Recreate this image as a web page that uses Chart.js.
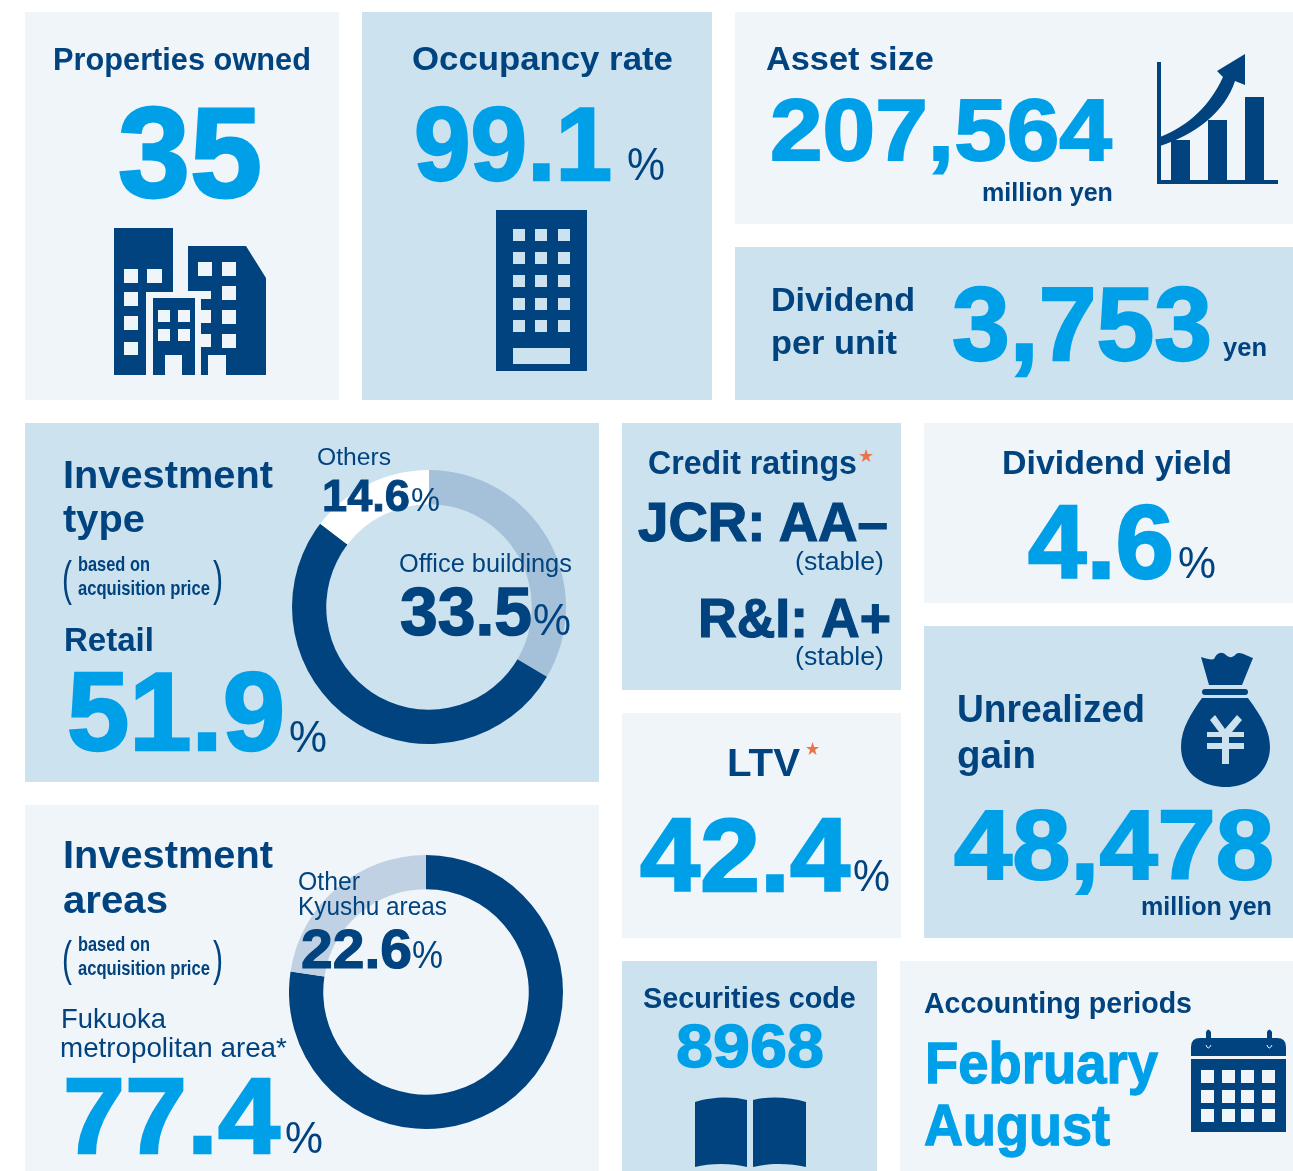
<!DOCTYPE html>
<html>
<head>
<meta charset="utf-8">
<title>Portfolio highlights</title>
<script src="https://cdn.jsdelivr.net/npm/chart.js@4/dist/chart.umd.js"></script>
<style>
  html, body { margin: 0; padding: 0; background: #fff; }
  #page { position: relative; width: 1293px; height: 1171px; overflow: hidden; }
  .panel { position: absolute; }
  .light { background: #f0f5fa; }
  .mid { background: #cde2ef; }
  canvas { position: absolute; }
  #overlay { position: absolute; left: 0; top: 0; pointer-events: none; }
  #overlay text { font-family: "Liberation Sans", Arial, sans-serif; }
</style>
</head>
<body>
<div id="page">
  <div class="panel light" style="left:25px;top:12px;width:314px;height:388px"></div>
  <div class="panel mid" style="left:362px;top:12px;width:350px;height:388px"></div>
  <div class="panel light" style="left:735px;top:12px;width:558px;height:212px"></div>
  <div class="panel mid" style="left:735px;top:247px;width:558px;height:153px"></div>
  <div class="panel mid" style="left:25px;top:423px;width:574px;height:359px"></div>
  <div class="panel mid" style="left:622px;top:423px;width:279px;height:267px"></div>
  <div class="panel light" style="left:924px;top:423px;width:369px;height:180px"></div>
  <div class="panel light" style="left:622px;top:713px;width:279px;height:225px"></div>
  <div class="panel mid" style="left:924px;top:626px;width:369px;height:312px"></div>
  <div class="panel light" style="left:25px;top:805px;width:574px;height:366px"></div>
  <div class="panel mid" style="left:622px;top:961px;width:255px;height:210px"></div>
  <div class="panel light" style="left:900px;top:961px;width:393px;height:210px"></div>

  <canvas id="typeChart" width="274" height="274" style="left:292px;top:470px"></canvas>
  <canvas id="areaChart" width="274" height="274" style="left:289px;top:855px"></canvas>

  <svg id="overlay" width="1293" height="1171" xmlns="http://www.w3.org/2000/svg">
    <g id="icons" fill="#00437f" fill-rule="evenodd">
      <!-- buildings -->
      <path d="M114 228H173V292H146V375H114Z M124 269V283H138V269Z M147 269V283H162V269Z M124 292V306H138V292Z M124 316V330H138V316Z M124 342V355H138V342Z"/>
      <path d="M153 298H195V375H182V355H165V375H153Z M158 310V322H170V310Z M178 310V322H190V310Z M158 329V341H170V329Z M178 329V341H190V329Z"/>
      <path d="M188 246H246L266 278V375H226V355H208V375H201V347H211V334H201V323H211V310H201V299H211V291H188Z M198 262V276H212V262Z M222 262V276H236V262Z M222 286V300H236V286Z M222 310V324H236V310Z M222 334V348H236V334Z"/>
      <!-- single building -->
      <path d="M496 210H587V371H496Z M513 229V241H525V229Z M535 229V241H547V229Z M558 229V241H570V229Z M513 252V264H525V252Z M535 252V264H547V252Z M558 252V264H570V252Z M513 275V287H525V275Z M535 275V287H547V275Z M558 275V287H570V275Z M513 298V310H525V298Z M535 298V310H547V298Z M558 298V310H570V298Z M513 320V332H525V320Z M535 320V332H547V320Z M558 320V332H570V320Z M513 348V364H570V348Z"/>
      <!-- growth chart -->
      <path d="M1157 62H1161V180H1278V184H1157Z"/>
      <path d="M1171 140H1190V181H1171Z M1208 120H1227V181H1208Z M1245 97H1264V181H1245Z"/>
      <path d="M1160 137C1190 125 1210 105 1223 77L1217 71L1245 54V85L1235 81C1225 112 1195 135 1160 146Z"/>
      <!-- money bag -->
      <path d="M1201 657C1207 659 1212 660 1214 659C1217 652 1222 651 1226 655C1229 658 1233 658 1236 654C1240 651 1245 655 1253 658L1242 685H1209Z"/>
      <rect x="1202" y="689" width="46" height="6" rx="3"/>
      <path d="M1202 698H1248C1258 712 1270 728 1270 747C1270 771 1250 787 1226 787C1200 787 1181 771 1181 747C1181 728 1192 712 1202 698Z
               M1215 715L1210 720L1219 732H1207V737H1222V743H1207V749H1222V764H1229V749H1244V743H1229V737H1244V732H1232L1242 720L1237 715L1225 729Z"/>
      <!-- book -->
      <path d="M695 1102C710 1097 732 1096 747 1100V1167C732 1163 710 1163 695 1167Z"/>
      <path d="M753 1100C768 1096 790 1097 806 1102V1167C790 1163 768 1163 753 1167Z"/>
      <!-- calendar -->
      <path d="M1200 1038H1206V1032Q1208 1027 1211 1032V1038H1267V1032Q1269 1027 1272 1032V1038H1277Q1286 1038 1286 1047V1056H1191V1047Q1191 1038 1200 1038Z"/>
      <path d="M1191 1059H1286V1132H1191Z
               M1201 1070V1083H1214V1070Z M1222 1070V1083H1235V1070Z M1241 1070V1083H1254V1070Z M1262 1070V1083H1275V1070Z
               M1201 1090V1103H1214V1090Z M1222 1090V1103H1235V1090Z M1241 1090V1103H1254V1090Z M1262 1090V1103H1275V1090Z
               M1201 1109V1122H1214V1109Z M1222 1109V1122H1235V1109Z M1241 1109V1122H1254V1109Z M1262 1109V1122H1275V1109Z"/>
      <path d="M1206 1045Q1208 1051 1211 1045M1267 1045Q1269 1051 1272 1045" fill="none" stroke="#f0f5fa" stroke-width="1"/>
    </g>
    <g id="labels"></g>
  </svg>
</div>

<script>
// Investment type, clockwise from the top
var typeLabels = ['Office buildings', 'Retail', 'Others'];
var typeValues = [33.5, 51.9, 14.6];
var typeColors = ['#a5c1da', '#00437f', '#ffffff'];

// Investment areas, clockwise from the top
var areaLabels = ['Fukuoka metropolitan area', 'Other Kyushu areas'];
var areaValues = [77.4, 22.6];
var areaColors = ['#00437f', '#c0d1e3'];

var NAVY = '#00437f';
var CYAN = '#00a0e9';
var STAR = '#e9744a';

function doughnut(id, labels, values, colors) {
    return new Chart(document.getElementById(id), {
        type: 'doughnut',
        data: {
            labels: labels,
            datasets: [{ data: values, backgroundColor: colors, borderWidth: 0 }]
        },
        options: {
            responsive: false,
            animation: false,
            cutout: '75%',
            layout: { padding: 0 },
            plugins: { legend: { display: false }, tooltip: { enabled: false } }
        }
    });
}

doughnut('typeChart', typeLabels, typeValues, typeColors);
doughnut('areaChart', areaLabels, areaValues, areaColors);

// text from left edge x0 to right edge x1, stretched to fit, on baseline y
function t(str, x0, x1, y, size, color, weight) {
    var el = document.createElementNS('http://www.w3.org/2000/svg', 'text');
    el.setAttribute('font-size', size);
    el.setAttribute('fill', color);
    el.setAttribute('font-weight', weight || 'bold');
    el.textContent = str;
    document.getElementById('labels').appendChild(el);
    var sx = (x1 - x0) / el.getComputedTextLength();
    el.setAttribute('transform', 'translate(' + x0 + ' ' + y + ') scale(' + sx + ' 1)');
    // the big figures are heavier than Liberation bold
    if (size >= 40 && weight !== 'normal') {
        el.setAttribute('stroke', color);
        el.setAttribute('stroke-width', size * 0.022);
    }
}

t('Properties owned', 53, 311, 70, 32, NAVY);
t('35', 118, 262, 197, 128, CYAN);

t('Occupancy rate', 412, 673, 70, 33, NAVY);
t('99.1', 414, 612, 180, 104, CYAN);
t('%', 627, 665, 180, 46, NAVY, 'normal');

t('Asset size', 766, 934, 70, 33, NAVY);
t('207,564', 770, 1112, 160, 88, CYAN);
t('million yen', 982, 1113, 201, 26, NAVY);

t('Dividend', 771, 915, 311, 33, NAVY);
t('per unit', 771, 897, 354, 33, NAVY);
t('3,753', 952, 1212, 360, 104, CYAN);
t('yen', 1223, 1267, 356, 26, NAVY);

t('Investment', 63, 273, 488, 39, NAVY);
t('type', 63, 145, 532, 39, NAVY);
t('based on', 78, 150, 571, 20, NAVY);
t('acquisition price', 78, 210, 595, 20, NAVY);
t('(', 62, 72, 595, 48, NAVY, 'normal');
t(')', 213, 223, 595, 48, NAVY, 'normal');
t(typeLabels[1], 64, 154, 651, 34, NAVY);
t(typeValues[1].toFixed(1), 67, 285, 750, 112, CYAN);
t('%', 289, 327, 752, 44, NAVY, 'normal');
t(typeLabels[2], 317, 391, 465, 24, NAVY, 'normal');
t(typeValues[2].toFixed(1), 322, 410, 511, 45, NAVY);
t('%', 411, 440, 511, 34, NAVY, 'normal');
t(typeLabels[0], 399, 572, 572, 25, NAVY, 'normal');
t(typeValues[0].toFixed(1), 400, 532, 635, 69, NAVY);
t('%', 533, 571, 635, 44, NAVY, 'normal');

t('Credit ratings', 648, 857, 474, 33, NAVY);
t('\u2605', 858, 874, 462, 18, STAR, 'normal');
t('JCR: AA\u2013', 638, 888, 541, 55, NAVY);
t('(stable)', 795, 884, 570, 25, NAVY, 'normal');
t('R&I: A+', 698, 891, 637, 55, NAVY);
t('(stable)', 795, 884, 665, 25, NAVY, 'normal');

t('Dividend yield', 1002, 1232, 474, 33, NAVY);
t('4.6', 1028, 1174, 578, 104, CYAN);
t('%', 1178, 1216, 578, 44, NAVY, 'normal');

t('LTV', 727, 800, 776, 39, NAVY);
t('\u2605', 805, 820, 755, 18, STAR, 'normal');
t('42.4', 640, 850, 891, 104, CYAN);
t('%', 853, 890, 891, 44, NAVY, 'normal');

t('Unrealized', 957, 1145, 722, 38, NAVY);
t('gain', 957, 1036, 768, 38, NAVY);
t('48,478', 954, 1274, 879, 98, CYAN);
t('million yen', 1141, 1272, 915, 26, NAVY);

t('Investment', 63, 273, 868, 39, NAVY);
t('areas', 63, 168, 913, 39, NAVY);
t('based on', 78, 150, 951, 20, NAVY);
t('acquisition price', 78, 210, 975, 20, NAVY);
t('(', 62, 72, 975, 48, NAVY, 'normal');
t(')', 213, 223, 975, 48, NAVY, 'normal');
t('Fukuoka', 61, 166, 1028, 27, NAVY, 'normal');
t('metropolitan area*', 60, 287, 1057, 27, NAVY, 'normal');
t(areaValues[0].toFixed(1), 63, 280, 1153, 108, CYAN);
t('%', 285, 323, 1153, 44, NAVY, 'normal');
t('Other', 298, 360, 890, 25, NAVY, 'normal');
t('Kyushu areas', 298, 447, 915, 25, NAVY, 'normal');
t(areaValues[1].toFixed(1), 301, 412, 968, 55, NAVY);
t('%', 412, 443, 968, 38, NAVY, 'normal');

t('Securities code', 643, 856, 1008, 29, NAVY);
t('8968', 676, 824, 1067, 62, CYAN);

t('Accounting periods', 924, 1192, 1013, 29, NAVY);
t('February', 925, 1158, 1083, 58, CYAN);
t('August', 924, 1110, 1145, 58, CYAN);
</script>
</body>
</html>
